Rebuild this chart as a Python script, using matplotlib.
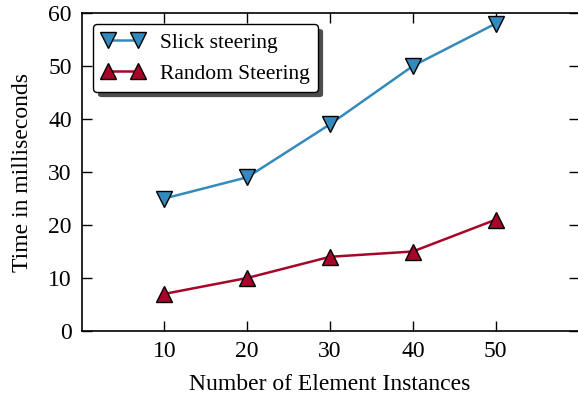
import matplotlib
matplotlib.use("Agg")
import matplotlib.pyplot as plt
from matplotlib.patches import FancyBboxPatch

instances = [10, 20, 30, 40, 50]
slick = [25, 29, 39, 50, 58]
random_steer = [7, 10, 14, 15, 21]

plt.rcParams['font.family'] = ['Liberation Serif', 'DejaVu Serif']
plt.rcParams['mathtext.fontset'] = 'stix'

fig = plt.figure(figsize=(5.78, 4.0), dpi=100)
ax = fig.add_axes([81.5/578, 1 - 331/400, (578.5 - 81.5)/578, (331 - 13)/400])

ax.plot(instances, slick, color='#348ABD', lw=1.8, marker='v', ms=12,
        markerfacecolor='#348ABD', markeredgecolor='black', markeredgewidth=1.0,
        label='Slick steering')
ax.plot(instances, random_steer, color='#A60628', lw=1.8, marker='^', ms=12,
        markerfacecolor='#A60628', markeredgecolor='black', markeredgewidth=1.0,
        label='Random Steering')

ax.set_xlim(0, 60)
ax.set_ylim(0, 60)
ax.set_xticks([10, 20, 30, 40, 50])
ax.set_yticks([0, 10, 20, 30, 40, 50, 60])
ax.tick_params(direction='in', length=7.5, width=1, top=True, right=True,
               labelsize=17, pad=7)
for s in ax.spines.values():
    s.set_linewidth(1.2)
ax.set_xlabel('Number of Element Instances', fontsize=17, labelpad=9)
ax.set_ylabel('Time in milliseconds', fontsize=17, labelpad=11)

leg = ax.legend(loc='upper left', fontsize=15.5, shadow=False, fancybox=True,
                framealpha=1, edgecolor='black', borderpad=0.4,
                numpoints=2, handlelength=2.0, handletextpad=0.7,
                labelspacing=0.5, borderaxespad=0,
                bbox_to_anchor=(11.5/497, 1 - 11/318))
leg.get_frame().set_linewidth(1.0)
leg.set_zorder(6)

fig.canvas.draw()
bb = leg.get_window_extent()
inv = ax.transAxes.inverted()
(x0, y0), (x1, y1) = inv.transform([[bb.x0 + 5, bb.y0 - 5], [bb.x1 + 5, bb.y1 - 5]])
shadow = FancyBboxPatch((x0, y0), x1 - x0, y1 - y0,
                        boxstyle='round,pad=0,rounding_size=0.008',
                        transform=ax.transAxes, facecolor='#4d4d4d',
                        edgecolor='none', zorder=5.5, clip_on=False)
ax.add_patch(shadow)

fig.savefig('out.png', dpi=100)
